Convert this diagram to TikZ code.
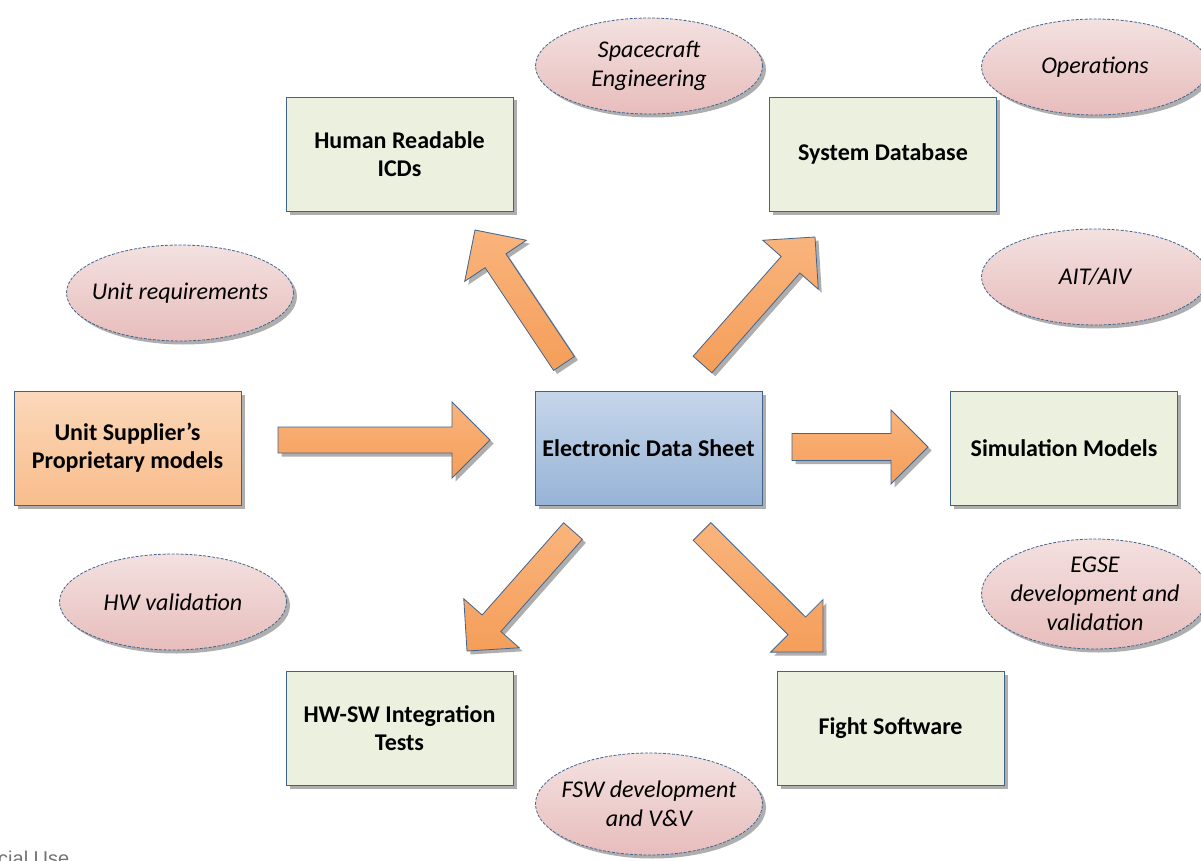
\documentclass[tikz,border=0pt]{standalone}
\usepackage{fontspec}
\setmainfont{Carlito}
\newfontfamily\footfont{Liberation Sans}
\usetikzlibrary{calc,shapes.geometric,shadows}
\definecolor{bordc}{HTML}{41648F}
\definecolor{boxg}{HTML}{EBF1DE}
\definecolor{pinkt}{HTML}{F3E1E0}
\definecolor{pinkb}{HTML}{E7BDBC}
\definecolor{edst}{HTML}{C6D6EA}
\definecolor{edsb}{HTML}{97B3D6}
\definecolor{ust}{HTML}{FBD8BA}
\definecolor{usb}{HTML}{F8BD8C}
\definecolor{arrt}{HTML}{F9B47C}
\definecolor{arrb}{HTML}{F59E5A}
\tikzset{
  shad/.style={drop shadow={shadow xshift=3.5pt,shadow yshift=-3.5pt,fill=black!45,opacity=0.7}},
  box/.style={shad,draw=bordc,line width=0.9pt,fill=boxg,minimum width=227pt,minimum height=114pt,
    inner sep=2pt,outer sep=0pt,align=center,font={\fontsize{24}{28}\selectfont\bfseries}},
  ell/.style={shad,ellipse,draw=bordc,dashed,dash pattern=on 3pt off 1.5pt,line width=0.8pt,
    top color=pinkt,bottom color=pinkb,minimum width=227pt,minimum height=96pt,inner sep=0pt},
  lbl/.style={align=center,inner sep=0pt,font={\fontsize{24}{29}\selectfont\itshape}},
  barrow/.style={shad,draw=bordc,line width=0.8pt,top color=arrt,bottom color=arrb,line join=miter},
}
% #1 tail, #2 tip, #3 shaft half width, #4 head half width, #5 head length
\newcommand\blockarrow[5]{%
  \path (#2) coordinate (bP) ($(#2)!#5!(#1)$) coordinate (bB);
  \draw[barrow] ($(#1)!#3!90:(bP)$) -- ($(bB)!#3!90:(bP)$) -- ($(bB)!#4!90:(bP)$) -- (bP)
    -- ($(bB)!#4!-90:(bP)$) -- ($(bB)!#3!-90:(bP)$) -- ($(#1)!#3!-90:(bP)$) -- cycle;}
\begin{document}
\begin{tikzpicture}[x=1pt,y=-1pt]
\useasboundingbox (0,0) rectangle (1201,861);
% ellipses
\node[ell,label={[lbl]center:Spacecraft\\Engineering}] (se) at (649,66) {};
\node[ell,label={[lbl]center:Operations}] (op) at (1095,67) {};
\node[ell,label={[lbl]center:Unit requirements}] (ur) at (180,293) {};
\node[ell,label={[lbl]center:AIT/AIV}] (ait) at (1095,277) {};
\node[ell,minimum height=110pt,label={[lbl]center:EGSE\\development and\\validation}] (egse) at (1095,594) {};
\node[ell,label={[lbl]center:HW validation}] (hwv) at (173,602) {};
\node[ell,minimum height=102pt,label={[lbl]center:FSW development\\and V\&V}] (fsw) at (649,804) {};
% boxes
\node[box] (hr) at (399.5,154) {Human Readable\\ICDs};
\node[box] (sd) at (883,154) {System Database};
\node[box,fill=none,top color=ust,bottom color=usb] (us) at (127.5,448) {Unit Supplier’s\\Proprietary models};
\node[box,fill=none,top color=edst,bottom color=edsb] (eds) at (648.5,448) {Electronic Data Sheet};
\node[box] (sm) at (1064,448) {Simulation Models};
\node[box] (hs) at (399.5,728) {HW-SW Integration\\Tests};
\node[box] (fs) at (890.5,728) {Fight Software};
% block arrows
\coordinate (a1t) at (278,440);   \coordinate (a1p) at (490,440);
\coordinate (a2t) at (792,447);   \coordinate (a2p) at (928,447);
\coordinate (a3t) at (564,363.5); \coordinate (a3p) at (475,230);
\coordinate (a4t) at (702.5,364.5); \coordinate (a4p) at (815,237);
\coordinate (a5t) at (573,531);   \coordinate (a5p) at (467,651);
\coordinate (a6t) at (702,531.5); \coordinate (a6p) at (823,652);
\blockarrow{a1t}{a1p}{13pt}{38pt}{38pt}
\blockarrow{a2t}{a2p}{13.5pt}{37pt}{37pt}
\blockarrow{a3t}{a3p}{12.5pt}{37pt}{37pt}
\blockarrow{a4t}{a4p}{12.5pt}{37pt}{37pt}
\blockarrow{a5t}{a5p}{12.5pt}{37pt}{37pt}
\blockarrow{a6t}{a6p}{12.5pt}{37pt}{37pt}
% footer
\node[anchor=base west,inner sep=0pt,text=black!55,font={\footfont\fontsize{20}{24}\selectfont}] (foot) at (-2,865) {cial Use};
\end{tikzpicture}
\end{document}
